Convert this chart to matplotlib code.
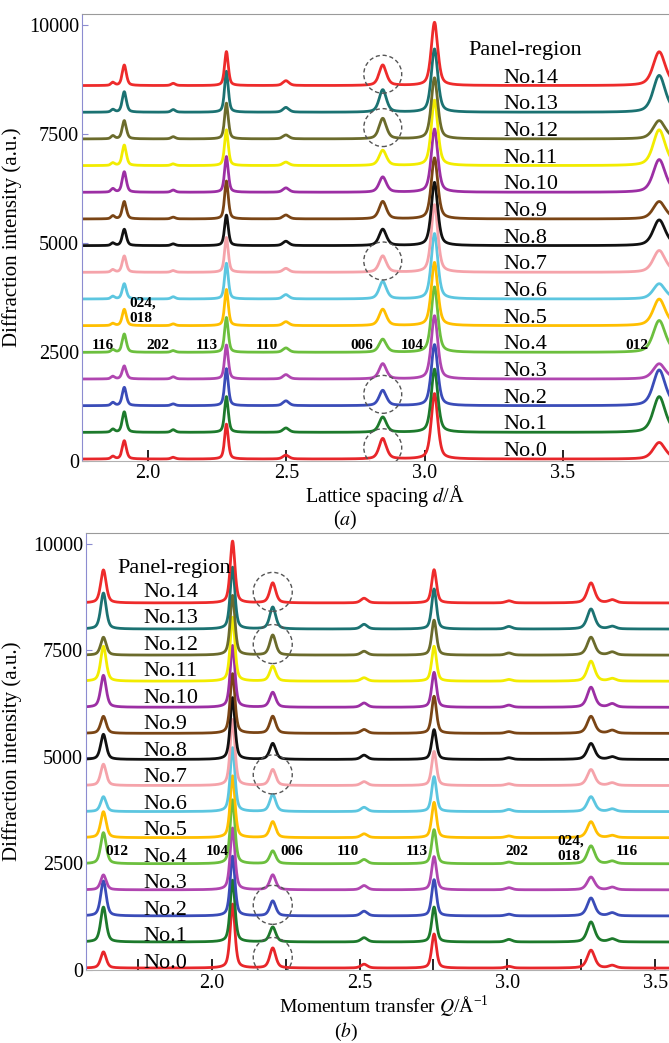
import numpy as np
import matplotlib
matplotlib.use('Agg')
import matplotlib.pyplot as plt
from matplotlib.patches import Ellipse

plt.rcParams['font.family'] = 'Liberation Serif'
plt.rcParams['mathtext.fontset'] = 'stix'

# --- data ---
region_names = ['No.%d' % i for i in range(15)]
region_colors = ['#e8262a', '#1d7a2c', '#3a4cb8', '#b046b0', '#6cbf3e',
                 '#ffbf00', '#5cc6e0', '#f5a3aa', '#111111', '#7a4515',
                 '#9c2fa4', '#f2ec00', '#6b6b2c', '#1b7272', '#ee2b2b']

# reflections (hkl), peak centre in Q (1/A) and peak width (FWHM in Q)
hkl = ['012', '104', '006', '110', '113', '202', '024/018', '116']
peak_q = [1.633, 2.070, 2.206, 2.515, 2.752, 3.005, 3.283, 3.355]
peak_fwhm = [0.022, 0.019, 0.024, 0.026, 0.019, 0.026, 0.030, 0.028]

# peak heights above background, region No.0 ... No.14
h_012 = [380, 820, 820, 350, 730, 610, 350, 500, 590, 400, 750, 820, 420, 845, 775]
h_104 = [1500, 1450, 1400, 1450, 1500, 1450, 1500, 1550, 1450, 1400, 1450, 1500, 1400, 1450, 1450]
h_006 = [470, 350, 350, 350, 300, 375, 400, 375, 375, 400, 350, 350, 470, 515, 470]
h_110 = [90, 100, 110, 100, 100, 90, 100, 90, 100, 90, 100, 80, 90, 110, 110]
h_113 = [800, 820, 850, 780, 800, 830, 820, 800, 700, 870, 820, 820, 820, 940, 780]
h_202 = [40, 60, 40, 50, 40, 40, 50, 40, 40, 40, 50, 40, 50, 60, 50]
h_024 = [420, 470, 420, 300, 420, 375, 350, 375, 375, 400, 470, 470, 420, 470, 470]
h_116 = [60, 70, 70, 60, 60, 50, 60, 60, 60, 70, 80, 60, 70, 60, 70]
heights = np.array([h_012, h_104, h_006, h_110, h_113, h_202, h_024, h_116])

background = 45
stack_step = 612
circled = [0, 2, 7, 12, 14]   # regions with the 006 peak circled

# --- build profiles (pseudo-Voigt for each reflection) ---
Q = np.linspace(1.55, 3.62, 4000)


def profile(i):
    y = np.full_like(Q, background, dtype=float)
    for k in range(len(peak_q)):
        w = peak_fwhm[k] / 2
        lor = 1 / (1 + ((Q - peak_q[k]) / w) ** 2)
        gau = np.exp(-np.log(2) * ((Q - peak_q[k]) / w) ** 2)
        y += heights[k, i] * (0.5 * lor + 0.5 * gau)
    return y + i * stack_step


fig = plt.figure(figsize=(6.69, 10.43), dpi=100)
ax_a = fig.add_axes([82 / 669, 1 - 461 / 1043, 587 / 669, 447 / 1043])
ax_b = fig.add_axes([86 / 669, 1 - 970 / 1043, 583 / 669, 437 / 1043])

for i in range(15):
    y = profile(i)
    ax_a.plot(2 * np.pi / Q, y, color=region_colors[i], lw=2.0)
    ax_b.plot(Q, y, color=region_colors[i], lw=2.0)

# dashed circles round the 006 peak
q006 = peak_q[hkl.index('006')]
for i in circled:
    yc = background + i * stack_step + 260
    ax_a.add_patch(Ellipse((2 * np.pi / q006, yc), 0.137, 870, fill=False,
                           ls=(0, (3, 2)), lw=1, ec='#555555', zorder=5))
    ax_b.add_patch(Ellipse((q006, yc), 0.132, 915, fill=False,
                           ls=(0, (3, 2)), lw=1, ec='#555555', zorder=5))

# region labels
ax_a.text(3.156, 9310, 'Panel-region', fontsize=16, va='baseline')
ax_b.text(1.679, 9320, 'Panel-region', fontsize=16, va='baseline')
for i in range(15):
    ax_a.text(3.283, background + i * stack_step + 70, region_names[i],
              fontsize=16, va='baseline', zorder=6)
    ax_b.text(1.767, 47 + i * 622, region_names[i],
              fontsize=16, va='baseline', zorder=6)

# hkl labels
lab_a = {'116': 1.837, '202': 2.036, '113': 2.213, '110': 2.430,
         '006': 2.773, '104': 2.954, '012': 3.767}
for t, x in lab_a.items():
    ax_a.text(x, 2640, t, fontsize=11, fontweight='bold', ha='center', va='center', zorder=6)
ax_a.text(1.934, 3440, '024,\n018', fontsize=11, fontweight='bold', ha='left',
          va='center', linespacing=1.25, zorder=6)

lab_b = {'012': 1.679, '104': 2.017, '006': 2.270, '110': 2.459,
         '113': 2.692, '202': 3.033, '116': 3.405}
for t, x in lab_b.items():
    ax_b.text(x, 2770, t, fontsize=11, fontweight='bold', ha='center', va='center', zorder=6)
ax_b.text(3.169, 2850, '024,\n018', fontsize=11, fontweight='bold', ha='left',
          va='center', linespacing=1.25, zorder=6)

# axes styling
for ax in (ax_a, ax_b):
    ax.set_ylim(0, 10255)
    ax.set_yticks([0, 2500, 5000, 7500, 10000])
    ax.spines['right'].set_visible(False)
    ax.spines['left'].set_color('#8c8cd0')
    ax.spines['top'].set_color('#9a9a9a')
    ax.spines['bottom'].set_color('#b0b0b0')
    ax.tick_params(axis='y', direction='in', color='#8c8cd0', length=4,
                   labelsize=14.5, pad=2)
    ax.tick_params(axis='x', which='both', direction='in', color='black',
                   length=8, width=1.2, labelsize=14.5)
    ax.set_ylabel('Diffraction intensity (a.u.)', fontsize=15)

ax_a.set_xlim(1.761, 3.883)
ax_a.set_xticks([2.0, 2.5, 3.0, 3.5])
ax_a.tick_params(axis='x', pad=2)
ax_a.yaxis.set_label_coords(-0.102, 0.5)
ax_a.text(0.516, -0.078, r'Lattice spacing $d$/Å', transform=ax_a.transAxes,
          ha='center', va='center', fontsize=14.5)
ax_a.text(0.448, -0.133, r'($a$)', transform=ax_a.transAxes,
          ha='center', va='center', fontsize=14.5)

ax_b.set_xlim(1.574, 3.547)
ax_b.set_xticks([2.0, 2.5, 3.0, 3.5])
ax_b.set_xticks([1.75, 2.25, 2.75, 3.25], minor=True)
ax_b.tick_params(axis='x', pad=3)
ax_b.yaxis.set_label_coords(-0.11, 0.5)
ax_b.text(0.511, -0.084, r'Momentum transfer $Q$/Å$^{\mathregular{-1}}$',
          transform=ax_b.transAxes, ha='center', va='center', fontsize=14)
ax_b.text(0.446, -0.142, r'($b$)', transform=ax_b.transAxes,
          ha='center', va='center', fontsize=14)

fig.savefig('out.png', dpi=100)
